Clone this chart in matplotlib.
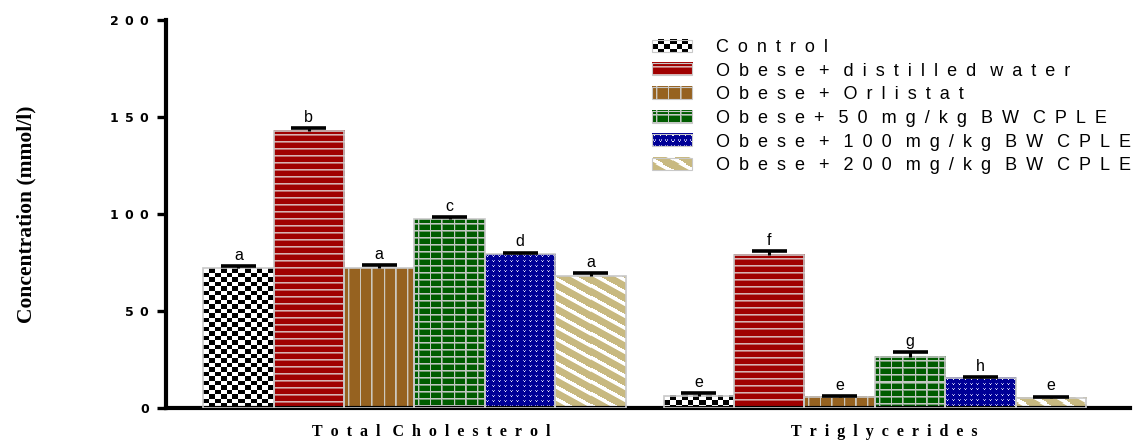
import numpy as np
import matplotlib
matplotlib.use("Agg")
import matplotlib.pyplot as plt
from matplotlib.patches import Rectangle
from matplotlib.legend_handler import HandlerBase
from matplotlib.image import BboxImage
from matplotlib.transforms import Bbox, TransformedBbox, ScaledTranslation

# ---- data -------------------------------------------------------------
groups = ["Total Cholesterol", "Triglycerides"]
treatments = [
    "Control",
    "Obese + distilled water",
    "Obese + Orlistat",
    "Obese+ 50 mg/kg BW CPLE",
    "Obese + 100 mg/kg BW CPLE",
    "Obese + 200 mg/kg BW CPLE",
]
tc_mean = [72.0, 142.9, 72.0, 97.3, 79.2, 68.0]
tc_err = [1.2, 1.2, 1.7, 1.2, 0.9, 1.4]
tg_mean = [6.3, 78.9, 5.7, 26.4, 15.5, 5.2]
tg_err = [1.3, 2.0, 0.3, 2.5, 0.6, 0.6]
tc_letters = ["a", "b", "a", "c", "d", "a"]
tg_letters = ["e", "f", "e", "g", "h", "e"]
y_ticks = [0, 50, 100, 150, 200]

DPI = 100


# ---- fill textures (pixel arrays) --------------------------------------
def _grid(w, h):
    yy, xx = np.mgrid[0:h, 0:w].astype(float)
    return xx, yy


def _c(rgb):
    return np.array(rgb, float) / 255.0


def _lines(coord, period, width):
    # anti-aliased coverage of evenly spaced lines
    return np.clip(width - (coord % period), 0, 1)


def _mix(base, top, cov):
    return base[None, None, :] * (1 - cov[..., None]) + top[None, None, :] * cov[..., None]


def tex_checker(w, h):
    xx, yy = _grid(w, h)
    m = ((np.floor(xx / 5.8) + np.floor(yy / 4.5)) % 2).astype(bool)
    img = np.ones((h, w, 3))
    img[m] = 0.0
    return img


def tex_red(w, h):
    xx, yy = _grid(w, h)
    cov = _lines(yy + 3, 7.0, 1.6)
    return _mix(_c((160, 0, 0)), _c((215, 178, 178)), cov)


def tex_brown(w, h):
    xx, yy = _grid(w, h)
    cov = _lines(xx + 8, 11.6, 1.8)
    return _mix(_c((150, 98, 32)), _c((205, 200, 190)), cov)


def tex_green(w, h):
    xx, yy = _grid(w, h)
    cov = np.maximum(_lines(xx + 8, 11.6, 1.8), _lines(yy + 3, 7.0, 1.6))
    return _mix(_c((0, 92, 0)), _c((195, 200, 195)), cov)


def tex_blue(w, h):
    xx, yy = _grid(w, h)
    base = _c((0, 0, 150))
    img = np.broadcast_to(base, (h, w, 3)).copy()
    cx = xx.astype(int) % 6
    cy = yy.astype(int) % 5
    side = ((cx == 1) | (cx == 3)) & (cy == 1)
    mid = (cx == 2) & (cy == 2)
    img[side] = _c((150, 150, 225))
    img[mid] = _c((245, 245, 255))
    return img


def tex_tan(w, h):
    xx, yy = _grid(w, h)
    cov = np.clip(4.5 - ((yy - 0.55 * xx) % 12.0), 0, 1)
    return _mix(_c((200, 185, 128)), _c((255, 255, 255)), cov)


textures = [tex_checker, tex_red, tex_brown, tex_green, tex_blue, tex_tan]


def tracked(s, gap):
    """Spread the letters of a label apart (letter-spaced typesetting)."""
    return (" " + gap).join(gap.join(word) for word in s.split(" "))


# ---- figure -----------------------------------------------------------
fig = plt.figure(figsize=(11.38, 4.4), dpi=DPI)
ax = fig.add_axes([166 / 1138, 32 / 440, (1130 - 166) / 1138, 388 / 440])

n = len(treatments)
width = 0.153
xlim = (-0.5396, 1.554)
ylim = (0, 200)
ax.set_xlim(*xlim)
ax.set_ylim(*ylim)

group_x = np.arange(len(groups))
means = [tc_mean, tg_mean]
errs = [tc_err, tg_err]
letters = [tc_letters, tg_letters]

for i in range(n):
    xs = group_x + (i - (n - 1) / 2) * width
    m = np.array([means[0][i], means[1][i]])
    e = np.array([errs[0][i], errs[1][i]])
    bars = ax.bar(xs, m, width, facecolor="none", edgecolor="#c8c8c8",
                  linewidth=1.2, zorder=3, label=treatments[i])
    for rect in bars:
        x0, y0 = rect.get_x(), rect.get_y()
        x1, y1 = x0 + rect.get_width(), y0 + rect.get_height()
        p0 = ax.transData.transform((x0, y0))
        p1 = ax.transData.transform((x1, y1))
        wpx = max(1, int(round(p1[0] - p0[0])))
        hpx = max(1, int(round(p1[1] - p0[1])))
        ax.imshow(textures[i](wpx, hpx), extent=(x0, x1, y0, y1),
                  aspect="auto", interpolation="nearest", zorder=2)
    # one-sided (upper) error bars
    ax.vlines(xs, m, m + e, color="black", linewidth=2.2, zorder=4)
    ax.hlines(m + e, xs - width * 0.25, xs + width * 0.25, color="black",
              linewidth=2.6, zorder=4)
    for g in range(len(groups)):
        ax.annotate(letters[g][i], (xs[g], m[g] + e[g]), xytext=(0, 4.5),
                    textcoords="offset points", ha="center", va="baseline",
                    fontsize=11.5, family=["Liberation Sans", "DejaVu Sans"],
                    zorder=5)

ax.set_xlim(*xlim)
ax.set_ylim(*ylim)

# axes styling
for side in ("top", "right"):
    ax.spines[side].set_visible(False)
for side in ("left", "bottom"):
    ax.spines[side].set_linewidth(3.0)
    ax.spines[side].set_color("black")

ax.set_yticks(y_ticks)
ax.set_yticklabels([tracked(str(t), "\u2002") for t in y_ticks],
                   fontsize=9, fontweight="bold",
                   family=["DejaVu Sans"])
ax.tick_params(axis="y", direction="out", length=6.5, width=2.4, pad=6.0)

ax.set_xticks(group_x)
ax.set_xticklabels([tracked(g, "\u2002") for g in groups], fontsize=11.5,
                   fontweight="bold",
                   family=["Liberation Serif", "DejaVu Serif"])
ax.tick_params(axis="x", length=0, pad=11.5)
for lbl, dx in zip(ax.get_xticklabels(), (12, 7)):
    lbl.set_transform(lbl.get_transform()
                      + ScaledTranslation(dx / 72, 0, fig.dpi_scale_trans))

ax.set_ylabel("Concentration (mmol/l)", fontsize=15.5, fontweight="bold",
              family=["Liberation Serif", "DejaVu Serif"])
ax.yaxis.set_label_coords((36 - 166) / 964, 0.5)


# ---- legend with textured swatches --------------------------------------
class TextureHandler(HandlerBase):
    def __init__(self, painter):
        super().__init__()
        self.painter = painter

    def create_artists(self, legend, orig_handle, xdescent, ydescent,
                       width, height, fontsize, trans):
        box = Bbox.from_bounds(-xdescent, -ydescent, width, height)
        img = BboxImage(TransformedBbox(box, trans), interpolation="nearest")
        wpx = max(1, int(round(width * DPI / 72)))
        hpx = max(1, int(round(height * DPI / 72)))
        img.set_data(self.painter(wpx, hpx))
        edge = Rectangle((-xdescent, -ydescent), width, height,
                         facecolor="none", edgecolor="#c8c8c8",
                         linewidth=0.8, transform=trans)
        return [img, edge]


proxies = [Rectangle((0, 0), 1, 1) for _ in treatments]
leg_size = 13
leg = ax.legend(
    proxies, [tracked(t, "\u2002") for t in treatments],
    handler_map={p: TextureHandler(t) for p, t in zip(proxies, textures)},
    loc="upper left", bbox_to_anchor=(652 / 1138, 1 - 39 / 440),
    bbox_transform=fig.transFigure, frameon=False, borderpad=0,
    borderaxespad=0, handlelength=29 / leg_size, handleheight=8.6 / leg_size,
    handletextpad=17 / leg_size, labelspacing=0.37,
    prop={"family": ["Liberation Sans", "DejaVu Sans"], "size": leg_size},
)

fig.savefig("out.png", dpi=DPI)
